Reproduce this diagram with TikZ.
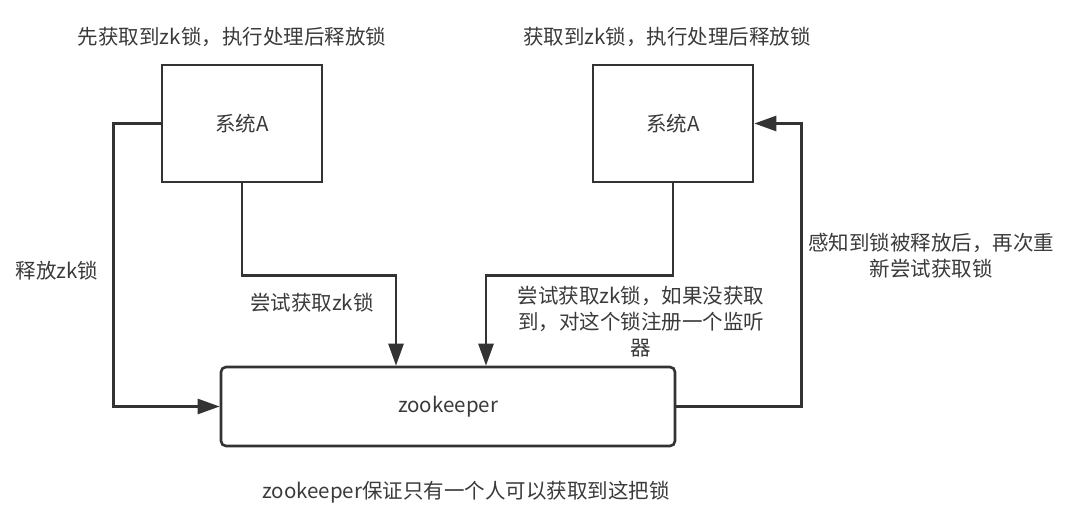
\documentclass[tikz,border=0pt]{standalone}
\usepackage{fontspec}
\usepackage{xcolor,tikz}
\usetikzlibrary{positioning,calc,arrows.meta}
\newfontfamily\cjk{Noto Sans CJK SC}
\definecolor{zkLine}{HTML}{333333}
\definecolor{zkText}{HTML}{3A3A3A}

\tikzset{
  lbl/.style={font=\cjk\fontsize{20.5}{26}\selectfont, text=zkText, inner sep=0pt, align=center},
  sysbox/.style={draw=zkLine, line width=2.6pt, fill=white, minimum width=160pt, minimum height=117pt, lbl},
  zkbox/.style={draw=zkLine, line width=2.6pt, fill=white, rounded corners=5pt, minimum width=454pt, minimum height=79pt, lbl},
  flow/.style={draw=zkLine, line width=2.6pt, -{Triangle[length=22pt,width=15pt]}}
}

\begin{document}
\begin{tikzpicture}[x=1pt,y=-1pt]

% --- CANVAS ---
\useasboundingbox (0,0) rectangle (1086,516);

% --- BOXES ---
\node[sysbox] (sysL) at (242,123.5) {系统A};
\node[sysbox] (sysR) at (673,123.5) {系统A};
\node[zkbox]  (zk)   at (448,406.5) {zookeeper};

% --- CAPTIONS (top + bottom) ---
\node[lbl] (capL)  at (232,37)  {先获取到zk锁，执行处理后释放锁};
\node[lbl] (capR)  at (667,37)  {获取到zk锁，执行处理后释放锁};
\node[lbl] (capZk) at (466,492) {zookeeper保证只有一个人可以获取到这把锁};

% --- CONNECTORS ---
\draw[flow] (sysL.west) -- ++(-47,0) |- (zk.west);
\draw[flow] (sysL.south) -- ++(0,92) -| ([xshift=-52pt]zk.north);
\draw[flow] (sysR.south) -- ++(0,92) -| ([xshift=38pt]zk.north);
\draw[flow] (zk.east) -- ++(125,0) |- (sysR.east);

% --- CONNECTOR LABELS ---
\node[lbl] (lblRel)   at (57,271)  {释放zk锁};
\node[lbl] (lblTryL)  at (312,303) {尝试获取zk锁};
\node[lbl] (lblTryR)  at (641,322) {尝试获取zk锁，如果没获取\\到，对这个锁注册一个监听\\器};
\node[lbl] (lblWatch) at (931,256) {感知到锁被释放后，再次重\\新尝试获取锁};

\end{tikzpicture}
\end{document}
